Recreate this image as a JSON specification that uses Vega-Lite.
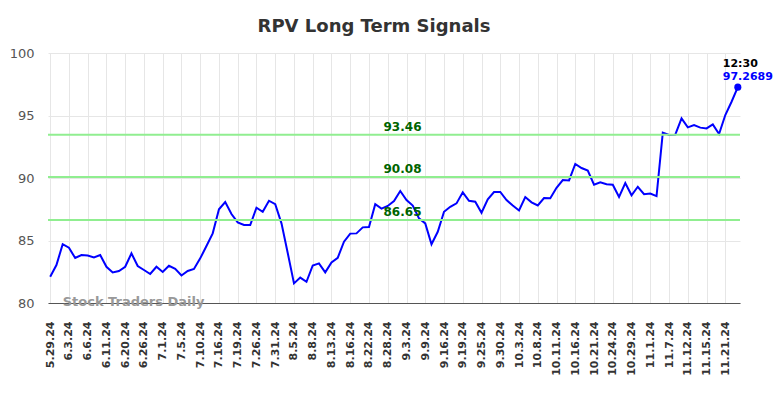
{
  "$schema": "https://vega.github.io/schema/vega-lite/v6.json",
  "width": 692,
  "height": 250,
  "autosize": {"type": "none"},
  "padding": {"left": 48, "top": 53, "right": 44, "bottom": 95},
  "background": "white",
  "config": {"font": "DejaVu Sans", "view": {"stroke": null}},
  "title": {"text": "RPV Long Term Signals", "fontSize": 18, "fontWeight": "bold", "color": "#333333", "anchor": "middle", "dx": -20, "offset": 11},
  "datasets": {
    "prices": [
      {"d": "5.29.24", "v": 82.1}, {"d": "5.30.24", "v": 83.04}, {"d": "5.31.24", "v": 84.7}, {"d": "6.3.24", "v": 84.42},
      {"d": "6.4.24", "v": 83.6}, {"d": "6.5.24", "v": 83.84}, {"d": "6.6.24", "v": 83.8}, {"d": "6.7.24", "v": 83.65},
      {"d": "6.10.24", "v": 83.84}, {"d": "6.11.24", "v": 82.9}, {"d": "6.13.24", "v": 82.45}, {"d": "6.17.24", "v": 82.56},
      {"d": "6.20.24", "v": 82.9}, {"d": "6.21.24", "v": 83.97}, {"d": "6.24.24", "v": 82.96}, {"d": "6.26.24", "v": 82.64},
      {"d": "6.27.24", "v": 82.32}, {"d": "6.28.24", "v": 82.9}, {"d": "7.1.24", "v": 82.48}, {"d": "7.2.24", "v": 82.98},
      {"d": "7.3.24", "v": 82.74}, {"d": "7.5.24", "v": 82.2}, {"d": "7.8.24", "v": 82.56}, {"d": "7.9.24", "v": 82.72},
      {"d": "7.10.24", "v": 83.57}, {"d": "7.11.24", "v": 84.56}, {"d": "7.15.24", "v": 85.57}, {"d": "7.16.24", "v": 87.5},
      {"d": "7.17.24", "v": 88.08}, {"d": "7.18.24", "v": 87.12}, {"d": "7.19.24", "v": 86.45}, {"d": "7.23.24", "v": 86.24},
      {"d": "7.24.24", "v": 86.24}, {"d": "7.26.24", "v": 87.62}, {"d": "7.29.24", "v": 87.3}, {"d": "7.30.24", "v": 88.18},
      {"d": "7.31.24", "v": 87.9}, {"d": "8.1.24", "v": 86.37}, {"d": "8.2.24", "v": 84.0}, {"d": "8.5.24", "v": 81.57},
      {"d": "8.6.24", "v": 82.03}, {"d": "8.7.24", "v": 81.7}, {"d": "8.8.24", "v": 83.0}, {"d": "8.9.24", "v": 83.17},
      {"d": "8.12.24", "v": 82.45}, {"d": "8.13.24", "v": 83.25}, {"d": "8.14.24", "v": 83.62}, {"d": "8.15.24", "v": 84.9},
      {"d": "8.16.24", "v": 85.55}, {"d": "8.20.24", "v": 85.57}, {"d": "8.21.24", "v": 86.05}, {"d": "8.22.24", "v": 86.08},
      {"d": "8.26.24", "v": 87.9}, {"d": "8.27.24", "v": 87.55}, {"d": "8.28.24", "v": 87.76}, {"d": "8.29.24", "v": 88.16},
      {"d": "8.30.24", "v": 88.96}, {"d": "9.3.24", "v": 88.24}, {"d": "9.5.24", "v": 87.8}, {"d": "9.6.24", "v": 86.77},
      {"d": "9.9.24", "v": 86.37}, {"d": "9.11.24", "v": 84.7}, {"d": "9.13.24", "v": 85.7}, {"d": "9.16.24", "v": 87.3},
      {"d": "9.17.24", "v": 87.7}, {"d": "9.18.24", "v": 87.97}, {"d": "9.19.24", "v": 88.85}, {"d": "9.20.24", "v": 88.18},
      {"d": "9.24.24", "v": 88.1}, {"d": "9.25.24", "v": 87.22}, {"d": "9.26.24", "v": 88.3}, {"d": "9.27.24", "v": 88.88},
      {"d": "9.30.24", "v": 88.88}, {"d": "10.1.24", "v": 88.24}, {"d": "10.2.24", "v": 87.8}, {"d": "10.3.24", "v": 87.4},
      {"d": "10.4.24", "v": 88.48}, {"d": "10.7.24", "v": 88.05}, {"d": "10.8.24", "v": 87.8}, {"d": "10.9.24", "v": 88.4},
      {"d": "10.10.24", "v": 88.38}, {"d": "10.11.24", "v": 89.22}, {"d": "10.14.24", "v": 89.84}, {"d": "10.15.24", "v": 89.81},
      {"d": "10.16.24", "v": 91.12}, {"d": "10.17.24", "v": 90.8}, {"d": "10.18.24", "v": 90.59}, {"d": "10.21.24", "v": 89.46},
      {"d": "10.22.24", "v": 89.66}, {"d": "10.23.24", "v": 89.5}, {"d": "10.24.24", "v": 89.46}, {"d": "10.25.24", "v": 88.48},
      {"d": "10.28.24", "v": 89.6}, {"d": "10.29.24", "v": 88.62}, {"d": "10.30.24", "v": 89.3}, {"d": "10.31.24", "v": 88.7},
      {"d": "11.1.24", "v": 88.76}, {"d": "11.4.24", "v": 88.55}, {"d": "11.5.24", "v": 93.63}, {"d": "11.7.24", "v": 93.44},
      {"d": "11.8.24", "v": 93.47}, {"d": "11.11.24", "v": 94.77}, {"d": "11.12.24", "v": 94.05}, {"d": "11.13.24", "v": 94.24},
      {"d": "11.14.24", "v": 94.03}, {"d": "11.15.24", "v": 93.97}, {"d": "11.18.24", "v": 94.29}, {"d": "11.20.24", "v": 93.52},
      {"d": "11.21.24", "v": 95.04}, {"d": "11.22.24", "v": 96.1}, {"d": "11.25.24", "v": 97.2689}
    ],
    "levels": [
      {"level": 93.46, "label": "93.46"},
      {"level": 90.08, "label": "90.08"},
      {"level": 86.65, "label": "86.65"}
    ],
    "last": [{"d": "11.25.24", "v": 97.2689, "time": "12:30", "label": "97.2689"}]
  },
  "encoding": {
    "x": {
      "field": "d", "type": "ordinal", "sort": null,
      "scale": {"type": "point", "padding": 0.35},
      "axis": {
        "title": null,
        "values": ["5.29.24","6.3.24","6.6.24","6.11.24","6.20.24","6.26.24","7.1.24","7.5.24","7.10.24","7.16.24","7.19.24","7.26.24","7.31.24","8.5.24","8.8.24","8.13.24","8.16.24","8.22.24","8.28.24","9.3.24","9.9.24","9.16.24","9.19.24","9.25.24","9.30.24","10.3.24","10.8.24","10.11.24","10.16.24","10.21.24","10.24.24","10.29.24","11.1.24","11.7.24","11.12.24","11.15.24","11.21.24"],
        "labelAngle": -90, "labelAlign": "right", "labelBaseline": "middle",
        "labelFontSize": 11, "labelFontWeight": "bold", "labelColor": "#333333",
        "labelPadding": 18, "ticks": false,
        "domainColor": "#555555", "domainWidth": 1,
        "grid": true, "gridColor": "#e6e6e6", "gridWidth": 1
      }
    },
    "y": {
      "field": "v", "type": "quantitative",
      "scale": {"domain": [80, 100], "zero": false, "nice": false},
      "axis": {
        "title": null, "values": [80, 85, 90, 95, 100],
        "domain": false, "ticks": false, "labelPadding": 14,
        "labelFontSize": 13, "labelColor": "#555555",
        "grid": true, "gridColor": "#e6e6e6", "gridWidth": 1
      }
    }
  },
  "layer": [
    {
      "data": {"name": "prices"},
      "mark": {"type": "line", "color": "#0000ff", "strokeWidth": 2}
    },
    {
      "data": {"name": "levels"},
      "mark": {"type": "rule", "color": "#90ee90", "strokeWidth": 2},
      "encoding": {"x": null, "y": {"field": "level", "type": "quantitative"}}
    },
    {
      "data": {"name": "levels"},
      "mark": {"type": "text", "color": "#006400", "fontSize": 12, "fontWeight": "bold", "align": "center", "baseline": "middle", "dy": -8, "dx": -4},
      "encoding": {
        "x": {"datum": "9.3.24", "type": "ordinal"},
        "y": {"field": "level", "type": "quantitative"},
        "text": {"field": "label"}
      }
    },
    {
      "data": {"values": [{"t": "Stock Traders Daily", "d": "5.31.24", "v": 80}]},
      "mark": {"type": "text", "color": "#999999", "fontSize": 13, "fontWeight": "bold", "align": "left", "baseline": "middle", "dy": -1},
      "encoding": {"text": {"field": "t"}}
    },
    {
      "data": {"name": "last"},
      "mark": {"type": "point", "filled": true, "color": "#0000ff", "size": 50, "opacity": 1}
    },
    {
      "data": {"name": "last"},
      "mark": {"type": "text", "color": "#000000", "fontSize": 11, "fontWeight": "bold", "align": "left", "baseline": "middle", "dx": -15, "dy": -23},
      "encoding": {"text": {"field": "time"}}
    },
    {
      "data": {"name": "last"},
      "mark": {"type": "text", "color": "#0000ff", "fontSize": 11, "fontWeight": "bold", "align": "left", "baseline": "middle", "dx": -15, "dy": -10},
      "encoding": {"text": {"field": "label"}}
    }
  ]
}
